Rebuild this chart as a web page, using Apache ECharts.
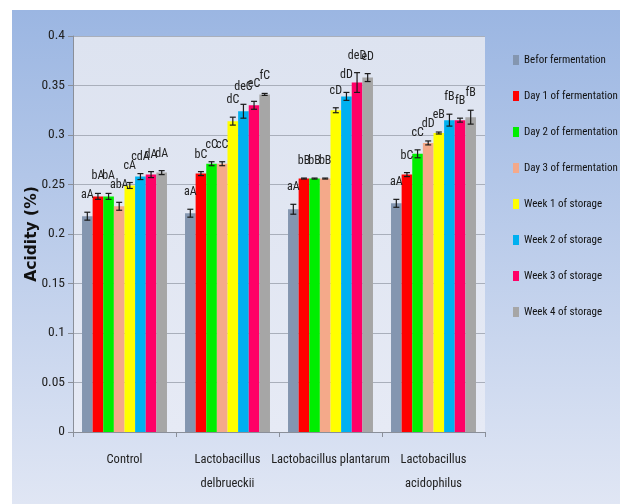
<!DOCTYPE html>
<html>
<head>
<meta charset="utf-8">
<script src="https://cdn.jsdelivr.net/npm/echarts@6/dist/echarts.min.js"></script>
<style>
html,body{margin:0;padding:0;background:#fff;}
#chart{width:620px;height:504px;}
</style>
</head>
<body>
<div id="chart"></div>
<script>
// ---- data ----
var categories = ['Control', 'Lactobacillus\ndelbrueckii', 'Lactobacillus plantarum', 'Lactobacillus\nacidophilus'];
var seriesNames = ['Befor fermentation', 'Day 1 of fermentation', 'Day 2 of fermentation', 'Day 3 of fermentation',
                   'Week 1 of storage', 'Week 2 of storage', 'Week 3 of storage', 'Week 4 of storage'];
var seriesColors = ['#8496b0', '#ff0000', '#00ee00', '#f4a98a', '#ffff00', '#00b0f0', '#ff0066', '#a6a6a6'];

var beforFermentation = [0.218, 0.221, 0.225, 0.231];
var day1Fermentation  = [0.238, 0.261, 0.256, 0.260];
var day2Fermentation  = [0.238, 0.271, 0.256, 0.281];
var day3Fermentation  = [0.228, 0.271, 0.256, 0.292];
var week1Storage      = [0.249, 0.314, 0.325, 0.302];
var week2Storage      = [0.258, 0.324, 0.339, 0.315];
var week3Storage      = [0.260, 0.330, 0.353, 0.315];
var week4Storage      = [0.262, 0.341, 0.358, 0.318];

var beforErr = [0.004, 0.004, 0.005, 0.004];
var day1Err  = [0.003, 0.002, 0.0005, 0.002];
var day2Err  = [0.003, 0.002, 0.0005, 0.004];
var day3Err  = [0.004, 0.002, 0.0005, 0.002];
var week1Err = [0.003, 0.004, 0.0025, 0.001];
var week2Err = [0.003, 0.007, 0.004, 0.006];
var week3Err = [0.003, 0.004, 0.010, 0.002];
var week4Err = [0.002, 0.001, 0.004, 0.007];

var beforLabels = ['aA', 'aA', 'aA', 'aA'];
var day1Labels  = ['bA', 'bC', 'bB', 'bC'];
var day2Labels  = ['bA', 'cC', 'bB', 'cC'];
var day3Labels  = ['abA', 'cC', 'bB', 'dD'];
var week1Labels = ['cA', 'dC', 'cD', 'eB'];
var week2Labels = ['cdA', 'deC', 'dD', 'fB'];
var week3Labels = ['dA', 'eC', 'deD', 'fB'];
var week4Labels = ['dA', 'fC', 'eD', 'fB'];

var yTicks = [0, 0.05, 0.1, 0.15, 0.2, 0.25, 0.3, 0.35, 0.4];

// ---- build ----
var values = [beforFermentation, day1Fermentation, day2Fermentation, day3Fermentation, week1Storage, week2Storage, week3Storage, week4Storage];
var errs = [beforErr, day1Err, day2Err, day3Err, week1Err, week2Err, week3Err, week4Err];
var labels = [beforLabels, day1Labels, day2Labels, day3Labels, week1Labels, week2Labels, week3Labels, week4Labels];

var GAP = 0.175;
var FONT = '"Roboto Condensed", "Carlito", "Liberation Sans", sans-serif';

var series = [];
values.forEach(function (vals, s) {
  series.push({
    name: seriesNames[s],
    type: 'bar',
    data: vals,
    barGap: '0%',
    barCategoryGap: (GAP * 100) + '%',
    itemStyle: { color: seriesColors[s] },
    z: 2
  });
});

var errData = [];
values.forEach(function (vals, s) {
  vals.forEach(function (v, c) {
    errData.push([c, v, errs[s][c], s, labels[s][c]]);
  });
});

series.push({
  type: 'custom',
  data: errData,
  z: 5,
  silent: true,
  encode: { x: 0, y: 1 },
  renderItem: function (params, api) {
    var c = api.value(0), v = api.value(1), e = api.value(2), s = api.value(3);
    var lab = errData[params.dataIndex][4];
    var base = api.coord([c, v]);
    var bandW = api.size([1, 0])[0];
    var groupW = bandW * (1 - GAP);
    var barW = groupW / 8;
    var x = base[0] - groupW / 2 + barW * (s + 0.5);
    var yTop = api.coord([c, v + e])[1];
    var yBot = api.coord([c, v - e])[1];
    var cap = 3;
    var st = { stroke: '#1a1a1a', lineWidth: 1.2 };
    return {
      type: 'group',
      children: [
        { type: 'line', shape: { x1: x, y1: yTop, x2: x, y2: yBot }, style: st },
        { type: 'line', shape: { x1: x - cap, y1: yTop, x2: x + cap, y2: yTop }, style: st },
        { type: 'line', shape: { x1: x - cap, y1: yBot, x2: x + cap, y2: yBot }, style: st },
        { type: 'text', x: x, y: yTop - 11,
          style: { text: lab, fill: '#222', font: '12px ' + FONT, align: 'center', verticalAlign: 'bottom' } }
      ]
    };
  }
});

var chart = echarts.init(document.getElementById('chart'), null, { renderer: 'canvas' });
chart.setOption({
  animation: false,
  backgroundColor: '#ffffff',
  graphic: [{
    type: 'rect', z: -10, silent: true,
    shape: { x: 12, y: 10, width: 608, height: 494 },
    style: {
      fill: new echarts.graphic.LinearGradient(0, 0, 0, 1, [
        { offset: 0, color: '#9bb6e2' },
        { offset: 1, color: '#e0e6f4' }
      ])
    }
  }],
  grid: {
    left: 73, right: 135, top: 36, bottom: 72,
    show: true,
    borderWidth: 0,
    backgroundColor: new echarts.graphic.LinearGradient(0, 0, 0, 1, [
      { offset: 0, color: '#dde3f0' },
      { offset: 1, color: '#e6eaf5' }
    ])
  },
  legend: {
    orient: 'vertical',
    left: 508, top: 48,
    itemWidth: 6, itemHeight: 10,
    itemGap: 22,
    icon: 'rect',
    data: seriesNames,
    textStyle: { fontFamily: FONT, fontSize: 11, color: '#111', lineHeight: 14 }
  },
  xAxis: {
    type: 'category',
    data: categories,
    axisLine: { lineStyle: { color: '#8a8f99', width: 1 } },
    axisTick: { show: true, length: 5, lineStyle: { color: '#8a8f99' } },
    axisLabel: { fontFamily: FONT, fontSize: 12.5, color: '#222', margin: 16, lineHeight: 24, interval: 0 }
  },
  yAxis: {
    type: 'value',
    min: 0, max: 0.4, interval: 0.05,
    name: 'Acidity (%)',
    nameLocation: 'middle',
    nameGap: 33,
    nameMoveOverlap: false,
    nameTextStyle: { fontFamily: '"DejaVu Sans", Verdana, sans-serif', fontWeight: 'bold', fontSize: 15.5, color: '#111' },
    axisLine: { show: true, lineStyle: { color: '#8a8f99' } },
    axisTick: { show: true, length: 5, lineStyle: { color: '#8a8f99' } },
    axisLabel: {
      fontFamily: FONT, fontSize: 13.5, color: '#222', margin: 8,
      formatter: function (v) {
        for (var i = 0; i < yTicks.length; i++) { if (Math.abs(yTicks[i] - v) < 1e-9) return String(yTicks[i]); }
        return '';
      }
    },
    splitLine: { show: true, lineStyle: { color: '#a9afbb', width: 1 } }
  },
  series: series
});
</script>
</body>
</html>
